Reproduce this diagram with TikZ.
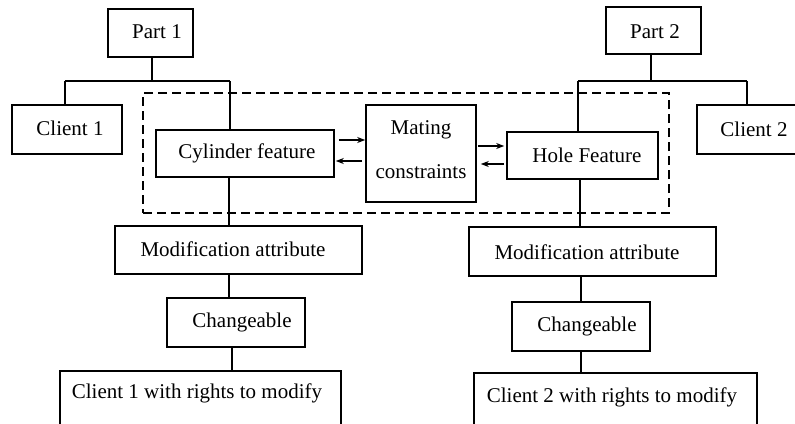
\documentclass[tikz,border=0pt]{standalone}
\usepackage{fontspec}
\setmainfont{Liberation Serif}
\usetikzlibrary{arrows.meta,calc}

% rectangle node given by its corners: name, left, top, right, bottom
\newcommand\mkbox[5]{%
  \node[box,minimum width={#4-#2},minimum height={#5-#3}] (#1)
    at ({(#2+#4)/2},{(#3+#5)/2}) {};}

\begin{document}
\begin{tikzpicture}[x=1pt,y=-1pt,
  box/.style={draw,line width=1.6pt,inner sep=0pt},
  lbl/.style={inner sep=0pt,font=\fontsize{21}{25}\selectfont},
  wire/.style={line width=1.2pt},
  flow/.style={line width=1.2pt,-{Stealth[length=8pt,width=6pt,inset=2.5pt]}},
  group/.style={draw,line width=2.2pt,dash pattern=on 9pt off 5pt,inner sep=0pt}]

\clip (0,0) rectangle (795,423);

% boxes
\mkbox{part1}{108}{9}{193}{57}
\mkbox{part2}{606}{7}{701}{54}
\mkbox{client1}{12}{105}{122}{154}
\mkbox{client2}{697}{105}{815}{154}
\mkbox{cyl}{156}{130}{334}{177}
\mkbox{mating}{366}{105}{476}{202}
\mkbox{hole}{507}{132}{658}{179}
\mkbox{mod1}{115}{226}{362}{274}
\mkbox{mod2}{469}{227}{716}{276}
\mkbox{chg1}{167}{298}{305}{347}
\mkbox{chg2}{512}{302}{650}{351}
\mkbox{rights1}{60}{371}{341}{445}
\mkbox{rights2}{474}{373}{757}{445}

% dashed frame round the features and their constraints
\node[group,minimum width=526,minimum height=120] (grp) at (406,153) {};

% labels
\node[lbl] (tpart1) at (157,32) {Part 1};
\node[lbl] (tpart2) at (655,32) {Part 2};
\node[lbl] (tclient1) at (70,128) {Client 1};
\node[lbl] (tclient2) at (754,129) {Client 2};
\node[lbl] (tcyl) at (247,153) {Cylinder feature};
\node[lbl,align=center,font=\fontsize{21}{44}\selectfont] (tmating) at (421,150) {Mating\\constraints};
\node[lbl] (thole) at (587,155) {Hole Feature};
\node[lbl] (tmod1) at (233,249) {Modification attribute};
\node[lbl] (tmod2) at (587,252) {Modification attribute};
\node[lbl] (tchg1) at (242,322) {Changeable};
\node[lbl] (tchg2) at (587,326) {Changeable};
\node[lbl] (trights1) at (197,393) {Client 1 with rights to modify};
\node[lbl] (trights2) at (612,397) {Client 2 with rights to modify};

% tree junctions and columns
\coordinate (j1) at (152,81);
\coordinate (j1l) at (65,81);
\coordinate (j1r) at (230,81);
\coordinate (j2) at (651,81);
\coordinate (j2l) at (578,81);
\coordinate (j2r) at (747,81);
\coordinate (c1) at (229,0);
\coordinate (c1b) at (232,0);
\coordinate (c2) at (580,0);
\coordinate (c2b) at (581,0);

% Part 1 tree
\draw[wire] (j1 |- part1.south) -- (j1);
\draw[wire] (j1l) -- (j1r);
\draw[wire] (j1l) -- (j1l |- client1.north);
\draw[wire] (j1r) -- (j1r |- cyl.north);
\draw[wire] (cyl.south -| c1) -- (mod1.north -| c1);
\draw[wire] (mod1.south -| c1) -- (chg1.north -| c1);
\draw[wire] (chg1.south -| c1b) -- (rights1.north -| c1b);

% Part 2 tree
\draw[wire] (j2 |- part2.south) -- (j2);
\draw[wire] (j2l) -- (j2r);
\draw[wire] (j2l) -- (j2l |- hole.north);
\draw[wire] (j2r) -- (j2r |- client2.north);
\draw[wire] (hole.south -| c2) -- (mod2.north -| c2);
\draw[wire] (mod2.south -| c2b) -- (chg2.north -| c2b);
\draw[wire] (chg2.south -| c2b) -- (rights2.north -| c2b);

% exchanges with the mating constraints
\coordinate (r1) at (0,140);
\coordinate (r2) at (0,161);
\coordinate (r3) at (0,146);
\coordinate (r4) at (0,164);
\draw[flow] ($(cyl.east |- r1)+(4,0)$) -- (mating.west |- r1);
\draw[flow] ($(mating.west |- r2)+(-3,0)$) -- ($(cyl.east |- r2)+(1,0)$);
\draw[flow] ($(mating.east |- r3)+(1,0)$) -- ($(hole.west |- r3)+(-2,0)$);
\draw[flow] ($(hole.west |- r4)+(-2,0)$) -- ($(mating.east |- r4)+(4,0)$);
\end{tikzpicture}
\end{document}
